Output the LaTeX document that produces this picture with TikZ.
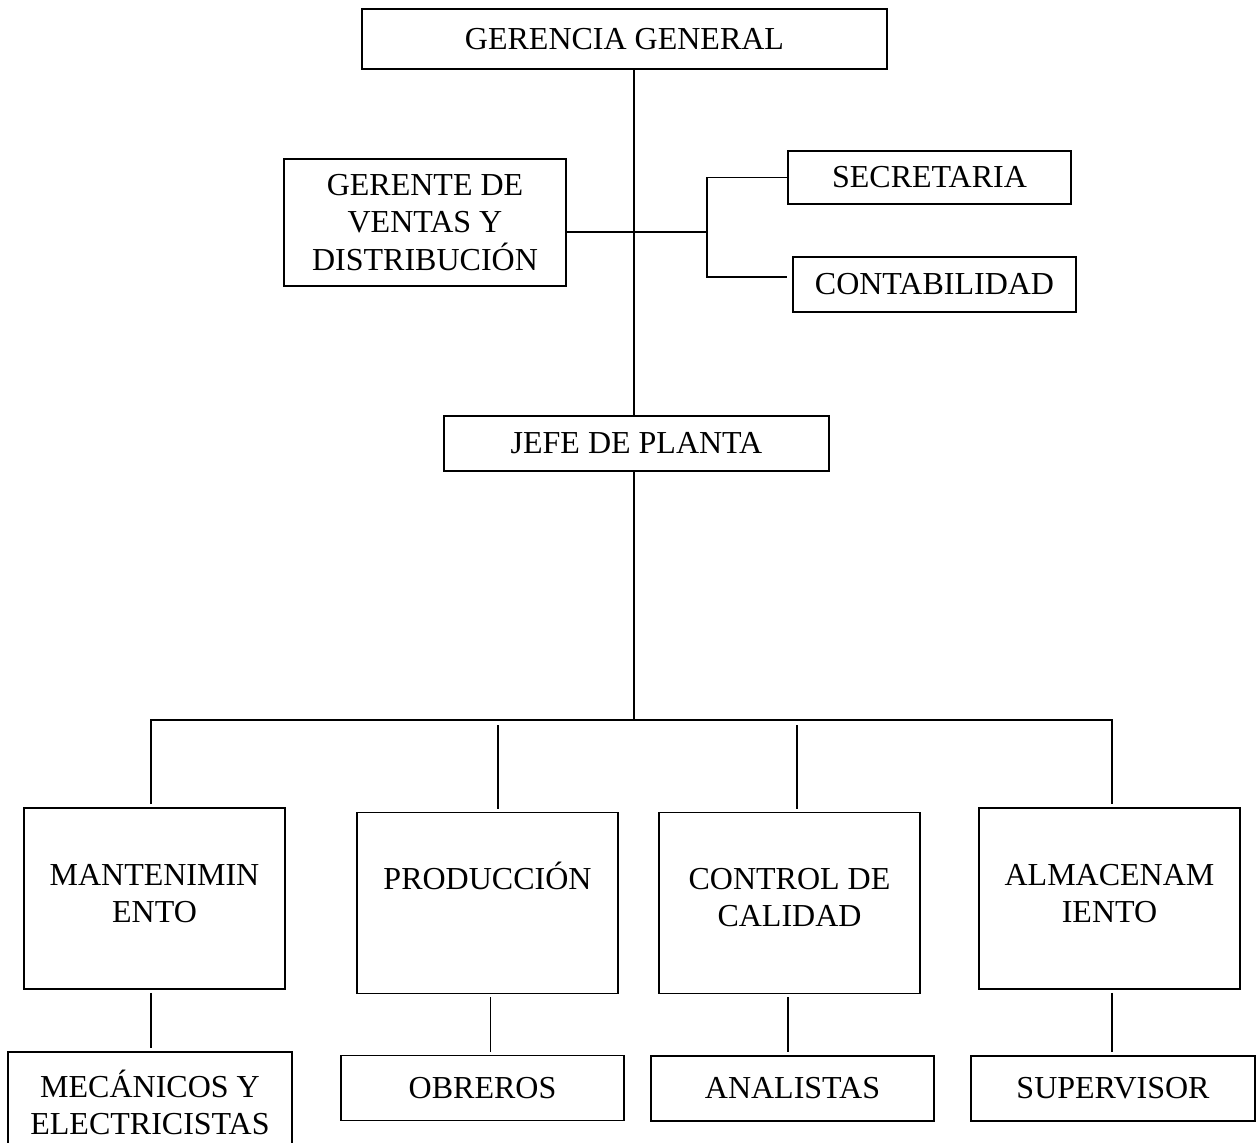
\documentclass[tikz,border=0pt]{standalone}
\usepackage{fontspec}
\setmainfont{Liberation Serif}

\begin{document}
\begin{tikzpicture}[
        x=0.5pt, y=-0.5pt,
        font=\fontsize{16pt}{18.7pt}\selectfont,
        line width=0.9pt,
        org_box/.style={
            draw,
            rectangle,
            align=center,
            inner xsep=2pt,
            inner ysep=0pt
        },
        dept_box/.style={
            org_box,
            minimum width=130.5pt,
            text height=38.5pt,
            text depth=52pt
        },
        dept_box_two/.style={
            org_box,
            minimum width=130.5pt,
            text height=57.2pt,
            text depth=33.3pt
        },
        staff_box/.style={
            org_box,
            minimum width=141.5pt,
            minimum height=32.5pt
        },
        gap/.style={
            shorten <=1.5pt,
            shorten >=1.5pt
        }
    ]
        \clip (0,0) rectangle (1257,1142);

        \node[org_box, minimum width=262.5pt, minimum height=30pt] (gerencia) at (624.5,39) {GERENCIA GENERAL};
        \node[org_box, minimum width=141pt, minimum height=63.5pt] (ventas) at (425,222.5) {GERENTE DE\\VENTAS Y\\DISTRIBUCIÓN};
        \node[org_box, minimum width=141.5pt, minimum height=26.5pt] (secretaria) at (929.5,177.5) {SECRETARIA};
        \node[org_box, minimum width=141.5pt, minimum height=27.5pt] (contabilidad) at (934.5,284.5) {CONTABILIDAD};
        \node[org_box, minimum width=192.5pt, minimum height=27.5pt] (jefe) at (636.5,443.5) {JEFE DE PLANTA};

        \node[dept_box_two] (mantenimiento) at (154.5,898.5) {MANTENIMIN\\ENTO};
        \node[dept_box] (produccion) at (487.5,903) {PRODUCCIÓN};
        \node[dept_box_two] (calidad) at (789.5,903) {CONTROL DE\\CALIDAD};
        \node[dept_box_two] (almacen) at (1109.5,898.5) {ALMACENAM\\IENTO};

        \node[org_box, minimum width=142pt, text height=41.2pt, text depth=22.8pt] (mecanicos) at (150,1116) {MECÁNICOS Y\\ELECTRICISTAS};
        \node[staff_box] (obreros) at (482.5,1088) {OBREROS};
        \node[staff_box] (analistas) at (792.5,1088.5) {ANALISTAS};
        \node[staff_box, minimum width=142pt] (supervisor) at (1113,1088.5) {SUPERVISOR};

        \coordinate (tronco) at (634,0);
        \coordinate (cruce) at (707,232);
        \coordinate (rama) at (707,277);
        \coordinate (barra_izq) at (151,720);
        \coordinate (barra_der) at (1112,720);
        \coordinate (col_prod) at (498,722);
        \coordinate (col_ctrl) at (797,722);
        \coordinate (baja_prod) at (490.5,0);
        \coordinate (baja_ctrl) at (788,0);

        \draw (gerencia.south -| tronco) -- (jefe.north -| tronco);
        \draw (ventas.east |- cruce) -- (cruce);
        \draw (secretaria.west) -| (rama) -- (rama -| secretaria.west);

        \draw (jefe.south -| tronco) -- (tronco |- barra_izq);
        \draw[shorten <=1.5pt] (mantenimiento.north -| barra_izq) |- (barra_der) -- ([yshift=1.5pt]almacen.north -| barra_der);
        \draw[gap] (col_prod) -- (produccion.north -| col_prod);
        \draw[gap] (col_ctrl) -- (calidad.north -| col_ctrl);

        \draw[gap] (mantenimiento.south -| barra_izq) -- (mecanicos.north -| barra_izq);
        \draw[gap] (produccion.south -| baja_prod) -- (obreros.north -| baja_prod);
        \draw[gap] (calidad.south -| baja_ctrl) -- (analistas.north -| baja_ctrl);
        \draw[gap] (almacen.south -| barra_der) -- (supervisor.north -| barra_der);
    \end{tikzpicture}
\end{document}
